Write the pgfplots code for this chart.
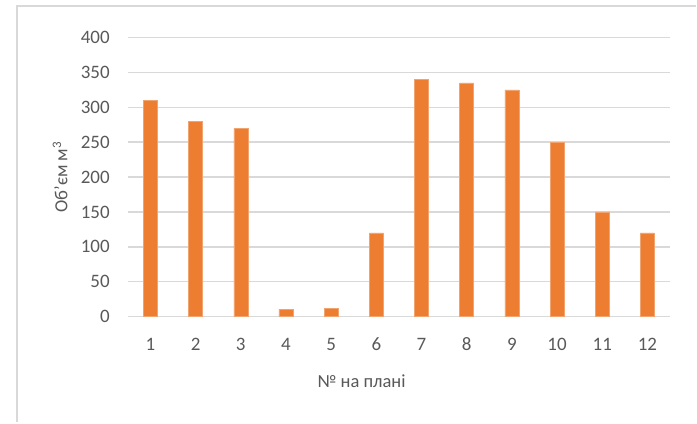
\documentclass[border=0pt]{standalone}
\usepackage{pgfplots}
\pgfplotsset{compat=1.18}
\usepackage{fontspec}
\setmainfont{Carlito}
\definecolor{barorange}{HTML}{ED7D31}
\definecolor{gridgray}{HTML}{D9D9D9}
\definecolor{txtgray}{HTML}{595959}
\begin{document}
\begin{tikzpicture}
\path (0bp,0bp) rectangle (697bp,423bp);
\draw[gridgray, line width=2bp] (17bp,0bp) -- (17bp,417bp) -- (697bp,417bp);
\begin{axis}[
  at={(128bp,106bp)}, anchor=origin,
  scale only axis,
  width=543bp, height=279.3bp,
  xmin=0.5, xmax=12.5,
  ymin=0, ymax=400,
  ytick={0,50,...,400},
  xtick={1,...,12},
  ymajorgrids,
  grid style={gridgray, line width=1.5bp},
  axis line style={draw=none},
  major tick length=0pt,
  tick label style={font=\fontsize{19bp}{22bp}\selectfont, text=txtgray, inner sep=0pt},
  xticklabel style={anchor=center, yshift=-28bp},
  yticklabel style={anchor=east, xshift=-18bp},
  /pgf/number format/assume math mode=true,
  ybar, bar width=14bp,
  xlabel={№ на плані},
  xlabel style={at={(axis description cs:0.431,0)}, anchor=center, yshift=-65bp, font=\fontsize{18.5bp}{22bp}\selectfont, text=txtgray},
  ylabel={Об'єм м\textsuperscript{3}},
  ylabel style={at={(axis description cs:-0.125,0.5)}, anchor=center, font=\fontsize{18.5bp}{22bp}\selectfont, text=txtgray},
  clip=false,
]
\addplot[fill=barorange, draw=barorange!70!white, line width=0.5bp, bar shift=0pt] coordinates {
(1,310) (2,280) (3,270) (4,10) (5,12) (6,120) (7,340) (8,335) (9,325) (10,250) (11,150) (12,120)
};
\end{axis}
\end{tikzpicture}
\end{document}
